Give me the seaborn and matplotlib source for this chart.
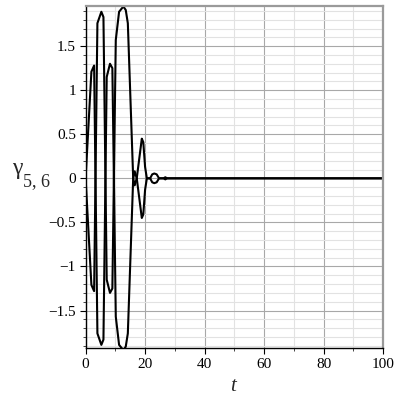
import numpy as np
import pandas as pd
import seaborn as sns
import matplotlib.pyplot as plt
from matplotlib.ticker import MultipleLocator, FuncFormatter

# one branch of the curve; the other branch is its mirror
t = [0, 1.95, 2.86, 3.97, 5.3, 6.0, 7.1, 8.2, 9.0, 10.15, 11.26, 12.7, 13.5, 14.2,
     16.0, 16.5, 17.2, 18.9, 19.4, 20.0, 20.6, 21.7, 22.4, 23.1, 23.9, 24.7,
     26.2, 26.8, 27.4, 100]
gamma = [0, 1.21, 1.28, -1.76, -1.89, -1.83, 1.15, 1.30, 1.25, -1.57, -1.89, -1.95, -1.91, -1.76,
         0, 0.08, 0, -0.45, -0.41, -0.13, 0, 0, 0.045, 0.055, 0.045, 0,
         0, 0.012, 0, 0]

df = pd.DataFrame({'t': t, 'g': gamma})
df['g2'] = -df['g']

sns.set_style('white')
plt.rcParams['font.family'] = ['Liberation Serif', 'DejaVu Serif']
plt.rcParams['mathtext.fontset'] = 'custom'
plt.rcParams['mathtext.rm'] = 'Liberation Serif'
plt.rcParams['mathtext.it'] = 'Liberation Serif:italic'

fig = plt.figure(figsize=(4, 4), dpi=100)
ax = fig.add_axes([0.214, 0.129, 0.7435, 0.857])

sns.lineplot(data=df, x='t', y='g', sort=False, estimator=None, color='black', lw=1.5, ax=ax)
sns.lineplot(data=df, x='t', y='g2', sort=False, estimator=None, color='black', lw=1.5, ax=ax)

ax.set_xlim(0, 100)
ax.set_ylim(-1.93, 1.96)

ax.xaxis.set_major_locator(MultipleLocator(20))
ax.xaxis.set_minor_locator(MultipleLocator(10))
ax.yaxis.set_major_locator(MultipleLocator(0.5))
ax.yaxis.set_minor_locator(MultipleLocator(0.1))
fmt = FuncFormatter(lambda v, p: ('%g' % v).replace('-', '\u2212'))
ax.yaxis.set_major_formatter(fmt)

ax.grid(which='major', color='#a8a8a8', lw=0.8)
ax.grid(which='minor', color='#e2e2e2', lw=0.8)
ax.set_axisbelow(True)

ax.tick_params(which='major', direction='out', length=4, width=0.8, labelsize=11, pad=3,
               left=True, bottom=True, colors='black')
ax.tick_params(which='minor', direction='out', length=2, width=0.6, left=True, bottom=True)

for s in ['left', 'bottom']:
    ax.spines[s].set_color('black')
    ax.spines[s].set_linewidth(1.0)
for s in ['top', 'right']:
    ax.spines[s].set_color('#9a9a9a')
    ax.spines[s].set_linewidth(1.6)

ax.set_xlabel('$t$', fontsize=15, labelpad=4)
ax.set_ylabel('')
fig.text(0.03, 1 - 174 / 400, '\u03b3', fontsize=17, ha='left', va='baseline')
fig.text(0.058, 1 - 186 / 400, '5, 6', fontsize=13, ha='left', va='baseline')

fig.savefig('out.png', dpi=100)
